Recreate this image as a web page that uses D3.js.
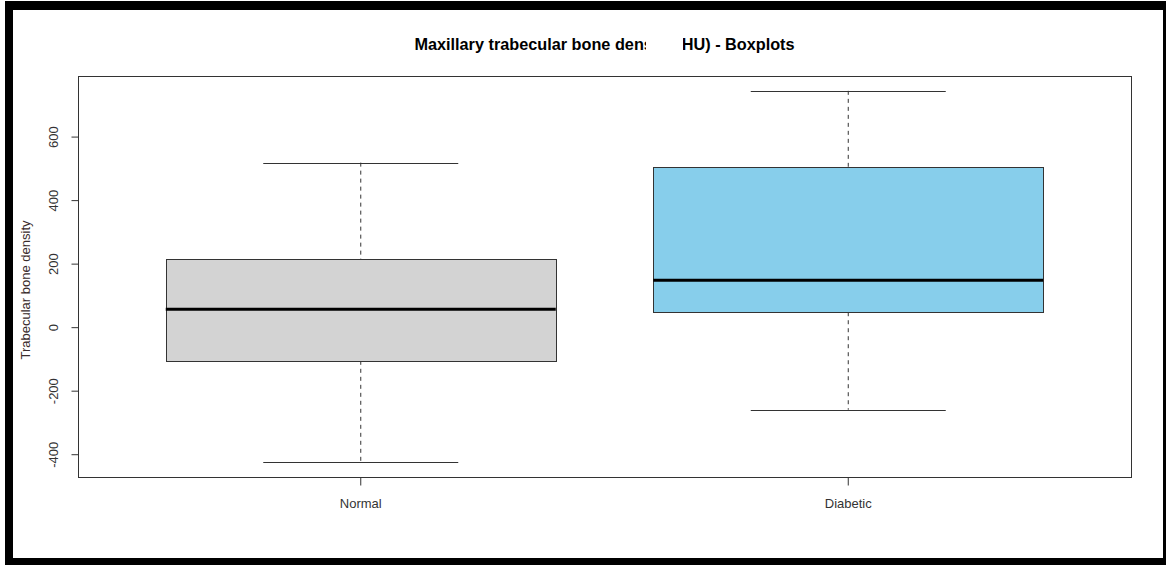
<!DOCTYPE html>
<html>
<head>
<meta charset="utf-8">
<script src="https://cdn.jsdelivr.net/npm/d3@7/dist/d3.min.js"></script>
<style>
  html, body { margin: 0; padding: 0; background: #fff; }
  svg { display: block; font-family: "Liberation Sans", Arial, sans-serif; }
</style>
</head>
<body>
<script>
// Group names and five-number summaries (HU)
const groups = ["Normal", "Diabetic"];
const whiskerLow = [-425, -260];
const q1 = [-106, 47];
const median = [56, 148];
const q3 = [214, 505];
const whiskerHigh = [518, 744];
const fills = ["#d3d3d3", "#87ceeb"];
const yTicks = [-400, -200, 0, 200, 400, 600];

const W = 1166, H = 565;
const plot = { left: 78, right: 1131, top: 76, bottom: 477 };

const svg = d3.select("body").append("svg").attr("width", W).attr("height", H);
svg.append("rect").attr("width", W).attr("height", H).attr("fill", "#fff");

// Black frame around the figure
const frame = svg.append("g").attr("fill", "#000");
frame.append("rect").attr("x", 5).attr("y", 1).attr("width", W - 5).attr("height", 9);
frame.append("rect").attr("x", 5).attr("y", 1).attr("width", 8).attr("height", H - 1);
frame.append("rect").attr("x", 5).attr("y", 558).attr("width", W - 5).attr("height", 7);
frame.append("rect").attr("x", 1163).attr("y", 1).attr("width", 3).attr("height", H - 1);

// Scales: y range padded 4% beyond whisker extremes
const lo = d3.min(whiskerLow), hi = d3.max(whiskerHigh);
const pad = (hi - lo) * 0.04;
const y = d3.scaleLinear().domain([lo - pad, hi + pad]).range([plot.bottom, plot.top]);
const x = d3.scaleBand().domain(groups).range([plot.left, plot.right])
  .paddingInner(0.2).paddingOuter(0.18);

const ink = "#333";

// Boxes, whiskers and medians
const data = groups.map((g, i) => ({
  g, lo: whiskerLow[i], q1: q1[i], med: median[i], q3: q3[i], hi: whiskerHigh[i], fill: fills[i]
}));

const box = svg.append("g").selectAll("g").data(data).join("g");
box.each(function(d) {
  const gsel = d3.select(this);
  const x0 = x(d.g), bw = x.bandwidth(), cx = x0 + bw / 2;
  // dashed whiskers
  gsel.append("line").attr("x1", cx).attr("x2", cx).attr("y1", y(d.hi)).attr("y2", y(d.q3))
    .attr("stroke", ink).attr("stroke-dasharray", "4,4");
  gsel.append("line").attr("x1", cx).attr("x2", cx).attr("y1", y(d.q1)).attr("y2", y(d.lo))
    .attr("stroke", ink).attr("stroke-dasharray", "4,4");
  // whisker caps
  [d.hi, d.lo].forEach(v => {
    gsel.append("line").attr("x1", cx - bw / 4).attr("x2", cx + bw / 4)
      .attr("y1", Math.round(y(v)) + 0.5).attr("y2", Math.round(y(v)) + 0.5)
      .attr("stroke", ink);
  });
  // box
  gsel.append("rect").attr("x", Math.round(x0) + 0.5).attr("y", Math.round(y(d.q3)) + 0.5)
    .attr("width", Math.round(bw)).attr("height", Math.round(y(d.q1) - y(d.q3)))
    .attr("fill", d.fill).attr("stroke", ink);
  // median
  gsel.append("line").attr("x1", x0).attr("x2", x0 + bw).attr("y1", y(d.med)).attr("y2", y(d.med))
    .attr("stroke", "#000").attr("stroke-width", 3);
});

// Plot border
svg.append("rect").attr("x", plot.left + 0.5).attr("y", plot.top + 0.5)
  .attr("width", plot.right - plot.left).attr("height", plot.bottom - plot.top)
  .attr("fill", "none").attr("stroke", ink);

// Y axis (plain hyphen for negatives)
const yAxis = svg.append("g").attr("transform", `translate(${plot.left + 0.5},0)`)
  .call(d3.axisLeft(y).tickValues(yTicks).tickFormat(d => String(d)).tickSize(7).tickPadding(0));
yAxis.select(".domain").remove();
yAxis.selectAll(".tick line").attr("stroke", ink);
yAxis.selectAll(".tick text")
  .attr("x", null).attr("dy", null)
  .attr("transform", "translate(-21,0) rotate(-90)")
  .attr("text-anchor", "middle")
  .attr("font-size", 13).attr("fill", ink)
  .attr("font-family", "Liberation Sans, Arial, sans-serif");

// X axis
const xAxis = svg.append("g").attr("transform", `translate(0,${plot.bottom + 0.5})`)
  .call(d3.axisBottom(x).tickSize(8).tickPadding(13));
xAxis.select(".domain").remove();
xAxis.selectAll(".tick line").attr("stroke", ink);
xAxis.selectAll(".tick text").attr("font-size", 13).attr("fill", ink)
  .attr("font-family", "Liberation Sans, Arial, sans-serif");

// Axis title
svg.append("text").attr("transform", "translate(30,290) rotate(-90)")
  .attr("text-anchor", "middle").attr("font-size", 13).attr("fill", "#3a2c2c")
  .text("Trabecular bone density");

// Title
svg.append("text").attr("x", (plot.left + plot.right) / 2).attr("y", 50)
  .attr("text-anchor", "middle").attr("font-size", 16.25).attr("font-weight", "bold")
  .attr("fill", "#000").text("Maxillary trabecular bone density (HU) - Boxplots");
// blank patch across part of the title
svg.append("rect").attr("x", 646).attr("y", 32).attr("width", 37).attr("height", 24).attr("fill", "#fff");
</script>
</body>
</html>
